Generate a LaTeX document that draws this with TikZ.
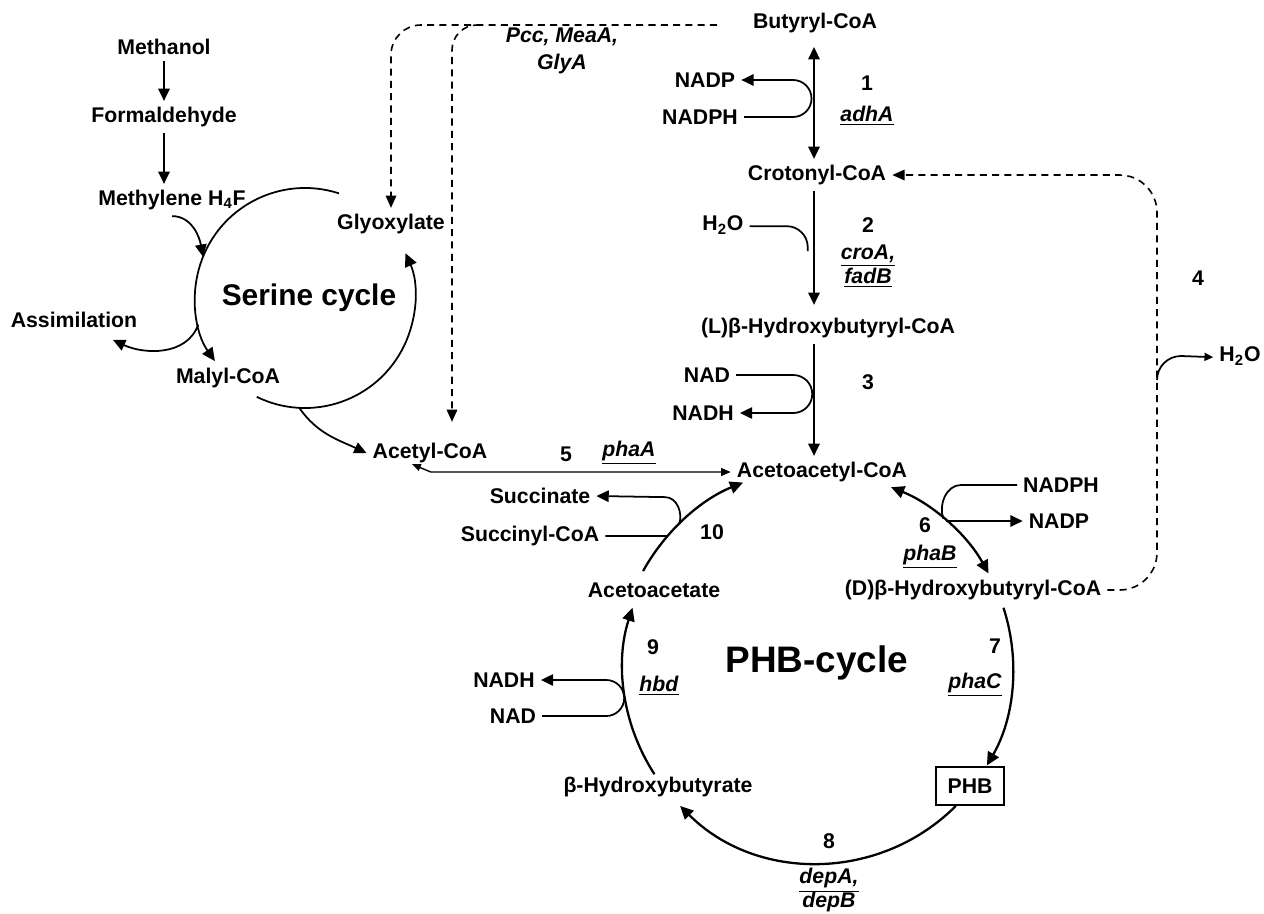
\documentclass[tikz,border=0pt]{standalone}
\usepackage{fontspec}
\setmainfont{Liberation Sans}
\usepackage{tikz}
\usetikzlibrary{arrows.meta}
\newcommand{\gene}[1]{\underline{\textit{#1}}}

\begin{document}
\begin{tikzpicture}[x=0.02cm, y=0.02cm,
  lbl/.style={font=\fontsize{12.1}{15}\selectfont\bfseries},
  genelbl/.style={font=\fontsize{12.1}{13.4}\selectfont\bfseries, align=center},
  rxn/.style={line width=1.1pt, -{Triangle[length=7pt,width=6.5pt]}},
  rxnboth/.style={line width=1.1pt, {Triangle[length=7pt,width=6.5pt]}-{Triangle[length=7pt,width=6.5pt]}},
  cycarc/.style={line width=1.3pt, -{Triangle[length=7.5pt,width=7pt]}},
  cycboth/.style={line width=1.3pt, {Triangle[length=7.5pt,width=7pt]}-{Triangle[length=7.5pt,width=7pt]}},
  cofac/.style={line width=1pt},
  cofacto/.style={line width=1pt, -{Triangle[length=7pt,width=6.5pt]}},
  dashrxn/.style={line width=0.9pt, dash pattern=on 4pt off 3pt, -{Triangle[length=7pt,width=6pt]}}]
  \useasboundingbox (0,0) rectangle (1264,-913);

  % --- Methanol into the serine cycle ---
  \node[lbl] (methanol) at (164,-47) {Methanol};
  \node[lbl] (formald) at (164,-117) {Formaldehyde};
  \node[lbl] (methylene) at (172,-200) {Methylene H\textsubscript{4}F};
  \node[lbl] (glyox) at (391,-224) {Glyoxylate};
  \node[lbl] (assim) at (74,-320) {Assimilation};
  \node[lbl] (malyl) at (228,-378) {Malyl-CoA};
  \node[lbl] (acetyl) at (430,-453) {Acetyl-CoA};
  \node[font=\fontsize{17}{20}\selectfont\bfseries] (serlbl) at (309,-298) {Serine cycle};
  \draw[rxn] (methanol) -- (formald);
  \draw[rxn] (formald.south) -- (formald.south |- methylene.north);

  % serine cycle circle
  \coordinate (serc) at (305,-298);
  \coordinate (ser-meth) at ([shift={(158:110)}]serc);
  \coordinate (ser-assim) at ([shift={(194:110)}]serc);
  \coordinate (ser-acet) at ([shift={(267:110)}]serc);
  \coordinate (assim-in) at (113,-340);
  \draw[cycarc, line width=1pt] ([shift={(72:110)}]serc) arc[start angle=72, end angle=215, radius=110];
  \draw[cycarc, line width=1pt] ([shift={(244:110)}]serc) arc[start angle=244, end angle=384, radius=110];
  \draw[rxn, line width=1pt] (methylene.south) to[out=0, in=100] (ser-meth);
  \draw[rxn, line width=1pt] (ser-assim) to[out=250, in=-25] (assim-in);
  \draw[rxn, line width=1pt] (ser-acet) to[out=-55, in=155] (acetyl.west);

  % dashed routes from butyryl-CoA
  \coordinate (dash-start) at (717,-25);
  \coordinate (dash-split) at (480,-25);
  \draw[dashrxn, rounded corners=0.6cm] (dash-start) -| (glyox.north);
  \draw[dashrxn, rounded corners=0.5cm] (dash-split) -| ([xshift=0.44cm, yshift=0.3cm]acetyl.north);
  \node[font=\fontsize{12.1}{15.3}\selectfont\bfseries\itshape, align=center] (pcc) at (562,-51) {Pcc, MeaA,\\GlyA};

  % --- Butyryl-CoA down to acetoacetyl-CoA ---
  \coordinate (col) at (814,0);
  \node[lbl] (butyryl) at (815,-23) {Butyryl-CoA};
  \node[lbl] (croton) at (817,-175) {Crotonyl-CoA};
  \node[lbl] (lhbc) at (828,-328) {(L)β-Hydroxybutyryl-CoA};
  \node[lbl] (acac) at (822,-472) {Acetoacetyl-CoA};
  \draw[rxnboth, shorten <=4.5pt] (butyryl.south -| col) -- (croton.north -| col);
  \draw[rxn, shorten >=4pt] (croton.south -| col) -- (lhbc.north -| col);
  \draw[rxn] (lhbc.south -| col) -- (acac.north -| col);

  % step 1
  \node[lbl] (nadp1) at (705,-80) {NADP};
  \node[lbl] (nadph1) at (700,-117) {NADPH};
  \draw[cofacto] (nadph1.east) -- ++(49,0) arc[start angle=-90, end angle=90, radius=18.5] -- (nadp1.east);
  \node[lbl] (n1) at (867,-83) {1};
  \node[lbl] (g1) at (867,-116) {\gene{adhA}};

  % step 2
  \node[lbl] (h2o2) at (723,-225) {H\textsubscript{2}O};
  \draw[cofac] (h2o2.mid east) -- ++(37,0) arc[start angle=90, end angle=0, radius=21] -- ++(0,-4);
  \node[lbl] (n2) at (868,-225) {2};
  \node[genelbl] (g2) at (868,-266) {\gene{croA,}\\\gene{fadB}};

  % step 3
  \node[lbl] (nad3) at (707,-375) {NAD};
  \node[lbl] (nadh3) at (703,-413) {NADH};
  \draw[cofacto] (nad3.east) -- ++(57,0) arc[start angle=90, end angle=-90, radius=19] -- (nadh3.east);
  \node[lbl] (n3) at (868,-382) {3};

  % step 4 (dashed return to crotonyl-CoA)
  \node[lbl] (dhbc) at (973,-590) {(D)β-Hydroxybutyryl-CoA};
  \coordinate (loop4) at (1157,-380);
  \draw[dashrxn, rounded corners=0.75cm] (dhbc.east) -| (loop4) |- (croton.east);
  \node[lbl] (h2o4) at (1240,-356) {H\textsubscript{2}O};
  \draw[cofac, -{Triangle[length=5pt,width=4.5pt]}] (loop4) arc[start angle=180, end angle=90, radius=24] -- (h2o4.mid west);
  \node[lbl] (n4) at (1198,-278) {4};

  % step 5
  \node[lbl] (n5) at (566,-454) {5};
  \node[lbl] (g5) at (629,-453) {\gene{phaA}};
  \draw[line width=0.8pt, {Triangle[length=5.5pt,width=4.5pt]}-{Triangle[length=5pt,width=4pt]}] (acac.west) -- ++(-300,0) -- ([xshift=-0.36cm, yshift=0.1cm]acetyl.south);

  % --- PHB cycle ---
  \coordinate (phbc) at (818,-668);
  \node[font=\fontsize{21}{24}\selectfont\bfseries] (phblbl) at (817,-663) {PHB-cycle};
  \node[lbl] (acetoac) at (654,-590) {Acetoacetate};
  \node[lbl, draw, line width=0.6pt, minimum width=1.36cm, minimum height=0.76cm] (phb) at (970,-786) {PHB};
  \node[lbl] (hbut) at (658,-787) {β-Hydroxybutyrate};
  \draw[cycarc] ([shift={(151:200)}]phbc) arc[start angle=151, end angle=112, radius=200];
  \draw[cycboth] ([shift={(68:195)}]phbc) arc[start angle=68, end angle=29, radius=195];
  \draw[cycarc] ([shift={(18:195)}]phbc) arc[start angle=18, end angle=-30, radius=195];
  \draw[cycarc] ([shift={(-45:195)}]phbc) arc[start angle=-45, end angle=-135, radius=195];
  \draw[cycarc] ([shift={(213:195)}]phbc) arc[start angle=213, end angle=162, radius=195];

  % step 6
  \node[lbl] (nadph6) at (1061,-485) {NADPH};
  \node[lbl] (nadp6) at (1059,-521) {NADP};
  \coordinate (c6a) at ([shift={(50:195)}]phbc);
  \coordinate (c6b) at ([shift={(48.9:195)}]phbc);
  \draw[cofac] (nadph6.west) -- ++(-56,0) to[out=180, in=110] (c6a);
  \draw[cofacto] (c6b) -- (nadp6.west);
  \node[lbl] (n6) at (925,-525) {6};
  \node[lbl] (g6) at (930,-557) {\gene{phaB}};

  % step 7 and 8
  \node[lbl] (n7) at (995,-646) {7};
  \node[lbl] (g7) at (975,-685) {\gene{phaC}};
  \node[lbl] (n8) at (829,-841) {8};
  \node[genelbl] (g8) at (829,-892) {\gene{depA,}\\\gene{depB}};

  % step 9
  \node[lbl] (nadh9) at (504,-680) {NADH};
  \node[lbl] (nad9) at (513,-716) {NAD};
  \draw[cofacto] (nad9.east) -- ++(64,0) arc[start angle=-90, end angle=90, radius=18] -- (nadh9.east);
  \node[lbl] (n9) at (653,-647) {9};
  \node[lbl] (g9) at (659,-686) {\gene{hbd}};

  % step 10
  \node[lbl] (succinate) at (540,-496) {Succinate};
  \node[lbl] (succinyl) at (530,-536) {Succinyl-CoA};
  \coordinate (c10a) at ([shift={(138.7:200)}]phbc);
  \coordinate (c10b) at ([shift={(134:200)}]phbc);
  \draw[cofac] (succinyl.east) -- (c10a);
  \draw[cofacto] (c10b) to[out=70, in=0] ++(-14,27) -- (succinate.east);
  \node[lbl] (n10) at (712,-532) {10};
\end{tikzpicture}
\end{document}
